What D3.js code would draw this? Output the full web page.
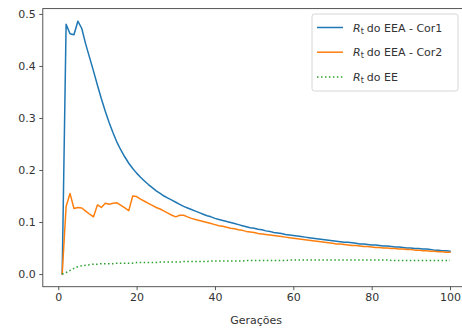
<!DOCTYPE html>
<html><head><meta charset="utf-8">
<script src="https://cdn.jsdelivr.net/npm/d3@7"></script>
<style>body{margin:0;background:#fff}svg{display:block}text{font-family:"DejaVu Sans",sans-serif}</style>
</head><body>
<svg id="c" width="462" height="329"></svg>
<script>
const generations = d3.range(1, 101);
const rtCor1 = [0,0.480,0.462,0.460,0.486,0.472,0.442,0.416,0.390,0.363,
0.337,0.313,0.291,0.271,0.253,0.238,0.225,0.213,0.203,0.194,
0.186,0.179,0.172,0.166,0.160,0.155,0.150,0.146,0.142,0.138,
0.134,0.130,0.127,0.124,0.121,0.118,0.115,0.112,0.110,0.107,
0.105,0.103,0.101,0.099,0.097,0.095,0.093,0.091,0.089,0.088,
0.086,0.085,0.083,0.082,0.080,0.079,0.078,0.076,0.075,0.074,
0.073,0.072,0.071,0.070,0.069,0.068,0.067,0.066,0.065,0.064,
0.063,0.062,0.061,0.061,0.060,0.059,0.058,0.058,0.057,0.056,
0.056,0.055,0.054,0.054,0.053,0.052,0.052,0.051,0.050,0.050,
0.049,0.049,0.048,0.048,0.047,0.046,0.046,0.045,0.045,0.044];
const rtCor2 = [0,0.130,0.155,0.126,0.128,0.127,0.121,0.115,0.110,0.133,
0.128,0.136,0.134,0.136,0.137,0.132,0.127,0.122,0.150,0.149,
0.144,0.140,0.136,0.132,0.128,0.125,0.121,0.117,0.113,0.110,
0.113,0.113,0.110,0.107,0.105,0.103,0.101,0.099,0.097,0.095,
0.093,0.092,0.090,0.088,0.087,0.085,0.084,0.082,0.081,0.080,
0.078,0.077,0.076,0.075,0.074,0.073,0.072,0.071,0.070,0.069,
0.068,0.067,0.066,0.065,0.064,0.063,0.062,0.061,0.060,0.059,
0.058,0.058,0.057,0.056,0.055,0.055,0.054,0.053,0.053,0.052,
0.051,0.051,0.050,0.050,0.049,0.049,0.048,0.048,0.047,0.047,
0.046,0.046,0.045,0.045,0.044,0.044,0.043,0.043,0.042,0.042];
const rtEE = [0,0.003,0.007,0.011,0.014,0.016,0.017,0.018,0.019,0.019,
0.020,0.020,0.020,0.020,0.021,0.021,0.021,0.021,0.021,0.022,
0.022,0.022,0.022,0.022,0.022,0.023,0.023,0.023,0.023,0.023,
0.023,0.024,0.024,0.024,0.024,0.024,0.024,0.024,0.025,0.025,
0.025,0.025,0.025,0.025,0.025,0.025,0.025,0.026,0.026,0.026,
0.026,0.026,0.026,0.026,0.026,0.026,0.026,0.026,0.027,0.027,
0.027,0.027,0.027,0.027,0.027,0.027,0.027,0.027,0.027,0.027,
0.027,0.027,0.027,0.027,0.027,0.027,0.027,0.027,0.027,0.027,
0.027,0.027,0.027,0.027,0.026,0.026,0.026,0.026,0.026,0.026,
0.026,0.026,0.026,0.026,0.026,0.026,0.026,0.026,0.026,0.026];
const seriesNames = ["do EEA - Cor1","do EEA - Cor2","do EE"];
const seriesColors = ["#1f77b4","#ff7f0e","#2ca02c"];
const xTicks = [0,20,40,60,80,100];
const yTicks = [0,0.1,0.2,0.3,0.4,0.5];
const xLabel = "Gerações";

const svg = d3.select("#c");
const L = 42.8, R = 469.4, T = 8.6, B = 286.7;
const x = d3.scaleLinear().domain([-3.95, 104.95]).range([L, R]);
const y = d3.scaleLinear().domain([-0.02430, 0.51025]).range([B, T]);

const series = [rtCor1, rtCor2, rtEE];
const line = d3.line().x((d,i)=>x(generations[i])).y(d=>y(d));
series.forEach((s,k)=>{
  svg.append("path").datum(s).attr("d", line).attr("fill","none")
    .attr("stroke", seriesColors[k]).attr("stroke-width",1.5)
    .attr("stroke-linejoin","round")
    .attr("stroke-linecap", k===2 ? "butt" : "square")
    .attr("stroke-dasharray", k===2 ? "1.5,2.475" : null);
});

svg.append("rect").attr("x",L).attr("y",T).attr("width",R-L).attr("height",B-T)
  .attr("fill","none").attr("stroke","#444").attr("stroke-width",0.9);

const xa = svg.append("g").attr("transform",`translate(0,${B})`)
  .call(d3.axisBottom(x).tickValues(xTicks).tickSize(3.5).tickPadding(3.5).tickFormat(d3.format("d")));
const ya = svg.append("g").attr("transform",`translate(${L},0)`)
  .call(d3.axisLeft(y).tickValues(yTicks).tickSize(3.5).tickPadding(3.5).tickFormat(d3.format(".1f")));
[xa,ya].forEach(a=>{
  a.select(".domain").remove();
  a.selectAll(".tick line").attr("stroke","#444").attr("stroke-width",0.9);
  a.selectAll(".tick text").attr("fill","#333").style("font-size","11px").style("font-family","DejaVu Sans");
});

svg.append("text").attr("x",(L+R)/2).attr("y",324).attr("text-anchor","middle")
  .attr("fill","#333").style("font-size","11px").text(xLabel);

const lg = svg.append("g");
lg.append("rect").attr("x",312).attr("y",14).attr("width",146).attr("height",77)
  .attr("rx",2.5).attr("fill","#fff").attr("fill-opacity",0.8)
  .attr("stroke","#ccc").attr("stroke-width",0.8);
seriesNames.forEach((n,k)=>{
  const yy = 27.5 + k*24.7;
  lg.append("line").attr("x1",317).attr("x2",343).attr("y1",yy).attr("y2",yy)
    .attr("stroke",seriesColors[k]).attr("stroke-width",1.5)
    .attr("stroke-dasharray", k===2 ? "1.5,2.475" : null);
  const t = lg.append("text").attr("x",353).attr("y",yy+4).attr("fill","#333").style("font-size","11px");
  t.append("tspan").style("font-style","italic").text("R");
  t.append("tspan").attr("dy",2).style("font-size","8px").text("t");
  t.append("tspan").attr("dy",-2).attr("dx",3).text(n);
});
</script>
</body></html>
